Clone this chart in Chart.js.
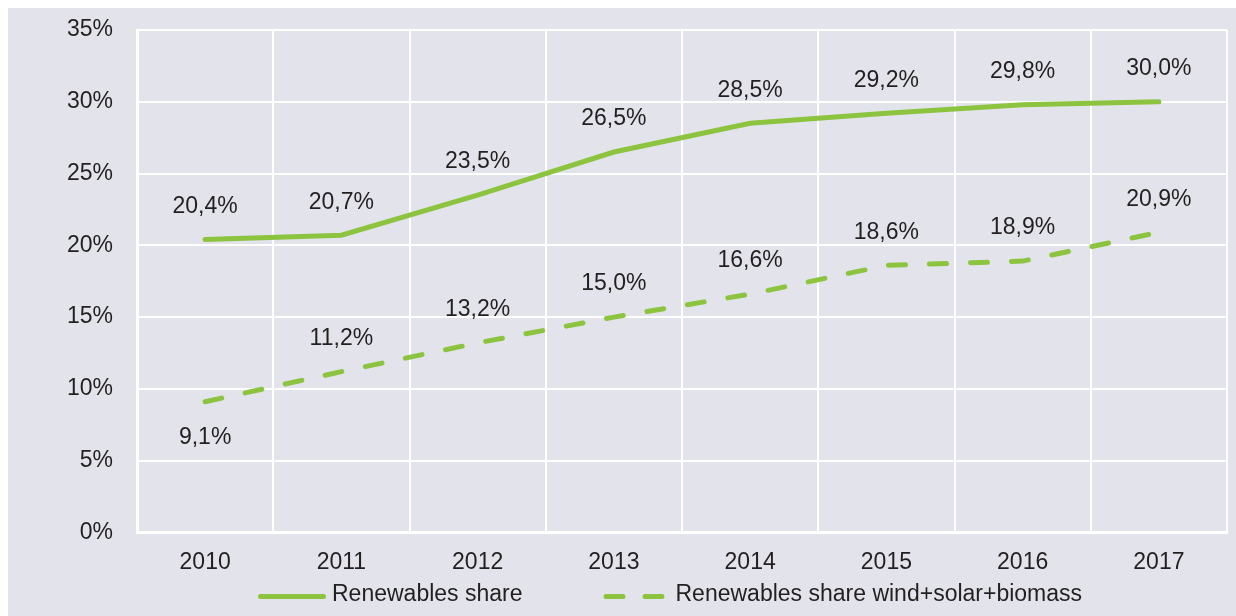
<!DOCTYPE html>
<html>
<head>
<meta charset="utf-8">
<script src="https://cdn.jsdelivr.net/npm/chart.js@4.4.1/dist/chart.umd.min.js"></script>
<style>
  html, body { margin: 0; padding: 0; background: #ffffff; }
  .chart-wrapper {
    position: absolute; left: 8px; top: 8px;
    width: 1228px; height: 608px;
    background: #e3e4eb;
  }
</style>
</head>
<body>
<div class="chart-wrapper">
  <canvas id="chart"></canvas>
</div>
<script>
const years = ['2010', '2011', '2012', '2013', '2014', '2015', '2016', '2017'];
const renewablesShare = [20.4, 20.7, 23.5, 26.5, 28.5, 29.2, 29.8, 30.0];
const windSolarBiomass = [9.1, 11.2, 13.2, 15.0, 16.6, 18.6, 18.9, 20.9];
const yTicks = [0, 5, 10, 15, 20, 25, 30, 35];

const green = '#8cc43f';
const textColor = '#231f20';
const fontFamily = '"Liberation Sans", Arial, sans-serif';
const fontSize = 23;

const fmt = v => v.toFixed(1).replace('.', ',') + '%';

// value next to each point (the first dashed one sits below its point)
const valueLabels = {
  id: 'valueLabels',
  afterDatasetsDraw(chart) {
    const ctx = chart.ctx;
    ctx.save();
    ctx.font = fontSize + 'px ' + fontFamily;
    ctx.fillStyle = textColor;
    ctx.textAlign = 'center';
    ctx.textBaseline = 'middle';
    chart.data.datasets.forEach((ds, i) => {
      const meta = chart.getDatasetMeta(i);
      meta.data.forEach((pt, j) => {
        const below = i === 1 && j === 0;
        ctx.fillText(fmt(ds.data[j]), pt.x, pt.y + (below ? 36 : -33));
      });
    });
    ctx.restore();
  }
};

// legend under the x labels, line samples drawn like the series
const lineLegend = {
  id: 'lineLegend',
  afterDraw(chart) {
    const ctx = chart.ctx;
    const area = chart.chartArea;
    const sampleWidths = [68, 61];
    const textGaps = [6, 11];
    const y = area.bottom + 64;
    let x = area.left + 121;
    ctx.save();
    ctx.font = fontSize + 'px ' + fontFamily;
    ctx.textBaseline = 'middle';
    ctx.textAlign = 'left';
    chart.data.datasets.forEach((ds, i) => {
      ctx.strokeStyle = ds.borderColor;
      ctx.lineWidth = ds.borderWidth;
      ctx.lineCap = 'round';
      ctx.setLineDash(ds.borderDash ? [17, 22] : []);
      ctx.beginPath();
      ctx.moveTo(x + 2.5, y);
      ctx.lineTo(x + sampleWidths[i] - 2.5, y);
      ctx.stroke();
      x += sampleWidths[i] + textGaps[i];
      ctx.fillStyle = textColor;
      ctx.fillText(ds.label, x, y - 2);
      x += ctx.measureText(ds.label).width + 81;
    });
    ctx.restore();
  }
};

new Chart(document.getElementById('chart').getContext('2d'), {
  type: 'line',
  data: {
    labels: years,
    datasets: [
      {
        label: 'Renewables share',
        data: renewablesShare,
        borderColor: green,
        borderWidth: 5,
        borderCapStyle: 'round',
        pointRadius: 0,
        tension: 0
      },
      {
        label: 'Renewables share wind+solar+biomass',
        data: windSolarBiomass,
        borderColor: green,
        borderWidth: 5,
        borderDash: [17, 24],
        borderCapStyle: 'round',
        pointRadius: 0,
        tension: 0
      }
    ]
  },
  options: {
    responsive: true,
    maintainAspectRatio: false,
    animation: false,
    layout: { padding: { left: 0, right: 9, top: 22, bottom: 24 } },
    scales: {
      x: {
        offset: true,
        grid: { offset: true, color: '#ffffff', lineWidth: 2, drawTicks: false },
        border: { color: '#ffffff', width: 3 },
        ticks: { color: textColor, font: { family: fontFamily, size: fontSize }, padding: 16 }
      },
      y: {
        min: 0,
        max: 35,
        afterFit(scale) {
          scale.width = 129;
          scale.paddingTop = 14;
          scale.paddingBottom = 14;
        },
        afterBuildTicks(scale) { scale.ticks = yTicks.map(v => ({ value: v })); },
        grid: { color: '#ffffff', lineWidth: 2, drawTicks: false },
        border: { color: '#ffffff', width: 3 },
        ticks: {
          color: textColor,
          font: { family: fontFamily, size: fontSize },
          padding: 24,
          callback: v => v + '%'
        }
      }
    },
    plugins: {
      legend: { display: false },
      tooltip: { enabled: false }
    }
  },
  plugins: [valueLabels, lineLegend]
});
</script>
</body>
</html>
